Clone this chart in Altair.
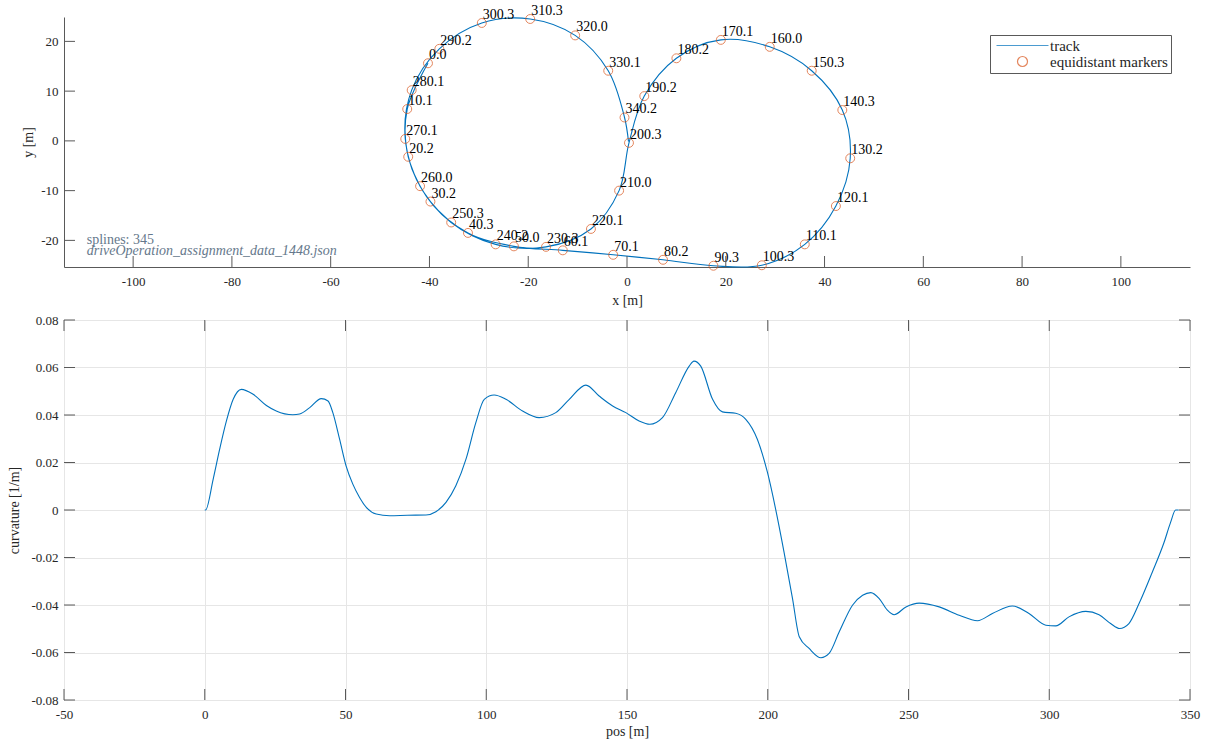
import altair as alt
import pandas as pd

FONT = "Liberation Serif"
BLUE = "#0072BD"
ORANGE = "#D95319"
AXIS_COLOR = "#595959"
TEXT_COLOR = "#262626"
GRID_COLOR = "#e6e6e6"
NOTE_COLOR = "#65788b"

# ---------------- top panel: track ----------------
track_pos = [0, 10.1, 20.2, 30.2, 40.3, 50.0, 60.1, 70.1, 80.2, 90.3, 100.3, 110.1,
             120.1, 130.2, 140.3, 150.3, 160.0, 170.1, 180.2, 190.2, 200.3, 210.0,
             220.1, 230.3, 240.2, 250.3, 260.0, 270.1, 280.1, 290.2, 300.3, 310.3,
             320.0, 330.1, 340.2, 345.0]
track_x = [-40.3, -44.5, -44.3, -39.8, -32.2, -22.9, -13.0, -2.8, 7.3, 17.5, 27.3, 36.0,
           42.3, 45.2, 43.6, 37.4, 28.9, 19.0, 10.0, 3.5, 0.4, -1.6,
           -7.3, -16.4, -26.6, -35.6, -41.9, -44.9, -43.6, -38.0, -29.4, -19.6,
           -10.5, -3.8, -0.5, 0.3]
track_y = [15.6, 6.4, -3.2, -12.2, -18.5, -21.2, -22.0, -22.9, -23.9, -25.1, -25.0, -20.8,
           -13.1, -3.5, 6.2, 14.1, 18.9, 20.3, 16.6, 9.0, -0.4, -10.0,
           -17.7, -21.3, -20.8, -16.4, -9.1, 0.4, 10.2, 18.5, 23.7, 24.5,
           21.2, 14.1, 4.7, -0.1]

marker_labels = ["0.0", "10.1", "20.2", "30.2", "40.3", "50.0", "60.1", "70.1", "80.2",
                 "90.3", "100.3", "110.1", "120.1", "130.2", "140.3", "150.3", "160.0",
                 "170.1", "180.2", "190.2", "200.3", "210.0", "220.1", "230.3", "240.2",
                 "250.3", "260.0", "270.1", "280.1", "290.2", "300.3", "310.3", "320.0",
                 "330.1", "340.2"]
marker_x = [-40.3, -44.5, -44.3, -39.8, -32.2, -22.9, -13.0, -2.8, 7.3, 17.5, 27.3, 36.0,
            42.3, 45.2, 43.6, 37.4, 28.9, 19.0, 10.0, 3.5, 0.4, -1.6,
            -7.3, -16.4, -26.6, -35.6, -41.9, -44.9, -43.6, -38.0, -29.4, -19.6,
            -10.5, -3.8, -0.5]
marker_y = [15.6, 6.4, -3.2, -12.2, -18.5, -21.2, -22.0, -22.9, -23.9, -25.1, -25.0, -20.8,
            -13.1, -3.5, 6.2, 14.1, 18.9, 20.3, 16.6, 9.0, -0.4, -10.0,
            -17.7, -21.3, -20.8, -16.4, -9.1, 0.4, 10.2, 18.5, 23.7, 24.5,
            21.2, 14.1, 4.7]

note_lines = ["splines: 345", "driveOperation_assignment_data_1448.json"]
note_x = [-109.4, -109.4]
note_y = [-20.75, -22.85]

top_x_ticks = [-100, -80, -60, -40, -20, 0, 20, 40, 60, 80, 100]
top_y_ticks = [-20, -10, 0, 10, 20]
top_x_domain = [-114, 114]
top_y_domain = [-25.35, 24.9]

legend_names = ["track", "equidistant markers"]

# ---------------- bottom panel: curvature ----------------
curv_pos = [0, 0.3, 3.0, 5.3, 7.7, 10.1, 13.0, 17.2, 21.9, 25.4, 31.3, 33.7, 37.3, 41.4,
            43.8, 45.5, 47.9, 50.2, 52.6, 55.0, 57.4, 60.9, 65.7, 72.0, 78.6, 82.1, 85.7,
            89.2, 92.8, 96.3, 99.3, 102.8, 107.0, 112.9, 118.8, 124.7, 129.5, 135.4,
            140.1, 144.9, 149.6, 154.3, 158.1, 162.6, 167.3, 172.1, 173.8, 176.2, 180.4,
            183.9, 188.6, 192.2, 196.3, 199.9, 202.8, 205.8, 208.8, 211.2, 214.7, 218.9,
            221.8, 225.4, 230.1, 233.7, 236.6, 239.6, 242.5, 244.9, 249.1, 253.8, 260.9,
            268.0, 274.5, 279.8, 286.9, 292.8, 298.8, 302.3, 307.0, 313.0, 317.7, 321.8,
            325.0, 328.3, 331.9, 336.6, 340.8, 343.1, 344.9, 346.0]
curv_val = [0.0, 0.0, 0.013, 0.0256, 0.0375, 0.0466, 0.0508, 0.0487, 0.044, 0.0417, 0.0401,
            0.0404, 0.0431, 0.0469, 0.0459, 0.041, 0.0298, 0.0186, 0.0109, 0.0053, 0.0011,
            -0.0017, -0.0024, -0.0022, -0.0021, -0.0007, 0.0032, 0.0102, 0.0214, 0.0368,
            0.0466, 0.0484, 0.0466, 0.0417, 0.0389, 0.041, 0.0466, 0.0526, 0.048, 0.0438,
            0.041, 0.0375, 0.0361, 0.0389, 0.0494, 0.0606, 0.0627, 0.0606, 0.0466, 0.0413,
            0.0407, 0.0382, 0.0298, 0.0158, 0.0004, -0.0178, -0.0373, -0.0534, -0.0583,
            -0.0622, -0.0604, -0.0513, -0.0401, -0.0359, -0.0348, -0.0373, -0.0422, -0.0441,
            -0.0408, -0.0392, -0.0408, -0.0443, -0.0466, -0.0436, -0.0404, -0.0436, -0.0485,
            -0.0488, -0.045, -0.0427, -0.0441, -0.0478, -0.0499, -0.0478, -0.0394, -0.0262,
            -0.0136, -0.0052, 0.0, 0.0]

bottom_x_ticks = [-50, 0, 50, 100, 150, 200, 250, 300, 350]
bottom_y_ticks = [-0.08, -0.06, -0.04, -0.02, 0, 0.02, 0.04, 0.06, 0.08]
bottom_x_domain = [-50, 350]
bottom_y_domain = [-0.08, 0.08]

TOP_W, TOP_H = 1126, 250
BOT_W, BOT_H = 1126, 380
TICK = 11

int_label = "(datum.value < 0 ? '-' : '') + format(abs(datum.value), 'd')"
dec_label = ("datum.value == 0 ? '0' : (datum.value < 0 ? '-' : '') + "
             "format(abs(datum.value), '.2f')")


def axis(**kw):
    base = dict(labelFont=FONT, labelFontSize=13, labelColor=TEXT_COLOR,
                titleFont=FONT, titleFontSize=14, titleFontWeight="normal",
                titleColor=TEXT_COLOR, tickSize=0, domainColor=AXIS_COLOR,
                domainWidth=1, labelFlush=False)
    base.update(kw)
    return alt.Axis(**base)


xs_top = alt.Scale(domain=top_x_domain, nice=False, zero=False)
ys_top = alt.Scale(domain=top_y_domain, nice=False, zero=False)
color_scale = alt.Scale(domain=legend_names, range=[BLUE, ORANGE])
shape_scale = alt.Scale(domain=legend_names, range=["M-5.2,0H5.2", "circle"])


def make_legend():
    return alt.Legend(
        title=None, orient="none", legendX=926, legendY=18,
        fillColor="white", strokeColor=AXIS_COLOR, padding=3, rowPadding=0,
        labelFont=FONT, labelFontSize=15, labelColor=TEXT_COLOR,
        symbolSize=100, symbolStrokeWidth=1.2, symbolOffset=22, labelOffset=20,
        symbolFillColor="transparent",
    )


track_df = pd.DataFrame({"pos": track_pos, "x": track_x, "y": track_y,
                         "series": legend_names[0]})
marker_df = pd.DataFrame({"label": marker_labels, "x": marker_x, "y": marker_y,
                          "series": legend_names[1]})
note_df = pd.DataFrame({"text": note_lines, "x": note_x, "y": note_y})

track = alt.Chart(track_df).mark_line(strokeWidth=1.1, interpolate="catmull-rom").encode(
    x=alt.X("x:Q", scale=xs_top,
            axis=axis(values=top_x_ticks, labelExpr=int_label, title="x [m]", grid=False,
                      labelPadding=8, titlePadding=5)),
    y=alt.Y("y:Q", scale=ys_top,
            axis=axis(values=top_y_ticks, labelExpr=int_label, title="y [m]", grid=False,
                      labelPadding=6, titlePadding=5)),
    color=alt.Color("series:N", scale=color_scale, legend=make_legend()),
    order=alt.Order("pos:Q"),
)

markers = alt.Chart(marker_df).mark_point(filled=False, size=80, strokeWidth=1).encode(
    x=alt.X("x:Q", scale=xs_top),
    y=alt.Y("y:Q", scale=ys_top),
    color=alt.Color("series:N", scale=color_scale, legend=make_legend()),
    shape=alt.Shape("series:N", scale=shape_scale, legend=make_legend()),
)

marker_text = alt.Chart(marker_df).mark_text(
    align="left", baseline="alphabetic", dx=1, dy=-4, font=FONT, fontSize=14,
    color="black").encode(
    x=alt.X("x:Q", scale=xs_top), y=alt.Y("y:Q", scale=ys_top), text="label:N")

note1 = alt.Chart(note_df.iloc[[0]]).mark_text(
    align="left", baseline="alphabetic", font=FONT, fontSize=14, color=NOTE_COLOR).encode(
    x=alt.X("x:Q", scale=xs_top), y=alt.Y("y:Q", scale=ys_top), text="text:N")
note2 = alt.Chart(note_df.iloc[[1]]).mark_text(
    align="left", baseline="alphabetic", font=FONT, fontSize=14, fontStyle="italic",
    color=NOTE_COLOR).encode(
    x=alt.X("x:Q", scale=xs_top), y=alt.Y("y:Q", scale=ys_top), text="text:N")

top_xt = alt.Chart(pd.DataFrame({"x": top_x_ticks})).mark_rule(
    color=AXIS_COLOR, strokeWidth=1).encode(
    x=alt.X("x:Q", scale=xs_top), y=alt.value(TOP_H), y2=alt.value(TOP_H - TICK))
top_yt = alt.Chart(pd.DataFrame({"y": top_y_ticks})).mark_rule(
    color=AXIS_COLOR, strokeWidth=1).encode(
    y=alt.Y("y:Q", scale=ys_top), x=alt.value(0), x2=alt.value(TICK))

top = alt.layer(track, markers, marker_text, note1, note2, top_xt, top_yt).properties(
    width=TOP_W, height=TOP_H, view=alt.ViewBackground(stroke=None))

# bottom
xs_b = alt.Scale(domain=bottom_x_domain, nice=False, zero=False)
ys_b = alt.Scale(domain=bottom_y_domain, nice=False, zero=False)
curv_df = pd.DataFrame({"pos": curv_pos, "curv": curv_val})

curv = alt.Chart(curv_df).mark_line(color=BLUE, strokeWidth=1.1,
                                    interpolate="monotone").encode(
    x=alt.X("pos:Q", scale=xs_b,
            axis=axis(values=bottom_x_ticks, labelExpr=int_label, title="pos [m]",
                      grid=True, gridColor=GRID_COLOR, domain=False, labelPadding=8,
                      titlePadding=3)),
    y=alt.Y("curv:Q", scale=ys_b,
            axis=axis(values=bottom_y_ticks, labelExpr=dec_label, title="curvature [1/m]",
                      grid=True, gridColor=GRID_COLOR, domain=False, labelPadding=6,
                      titlePadding=9)),
    order=alt.Order("pos:Q"),
)

bxt = pd.DataFrame({"pos": bottom_x_ticks})
byt = pd.DataFrame({"curv": bottom_y_ticks})
b_xt_bottom = alt.Chart(bxt).mark_rule(color=AXIS_COLOR).encode(
    x=alt.X("pos:Q", scale=xs_b), y=alt.value(BOT_H), y2=alt.value(BOT_H - TICK))
b_xt_top = alt.Chart(bxt).mark_rule(color=AXIS_COLOR).encode(
    x=alt.X("pos:Q", scale=xs_b), y=alt.value(0), y2=alt.value(TICK))
b_yt_left = alt.Chart(byt).mark_rule(color=AXIS_COLOR).encode(
    y=alt.Y("curv:Q", scale=ys_b), x=alt.value(0), x2=alt.value(TICK))
b_yt_right = alt.Chart(byt).mark_rule(color=AXIS_COLOR).encode(
    y=alt.Y("curv:Q", scale=ys_b), x=alt.value(BOT_W - TICK), x2=alt.value(BOT_W))

bottom = alt.layer(curv, b_xt_bottom, b_xt_top, b_yt_left, b_yt_right).properties(
    width=BOT_W, height=BOT_H,
    view=alt.ViewBackground(stroke=AXIS_COLOR, strokeWidth=1))

chart = alt.vconcat(top, bottom, spacing=6).properties(
    padding={"left": 7, "top": 3, "right": 5, "bottom": 2}
).configure(font=FONT).configure_view(stroke=None)

chart.save("out.html", embed_options={"renderer": "svg", "actions": False})
